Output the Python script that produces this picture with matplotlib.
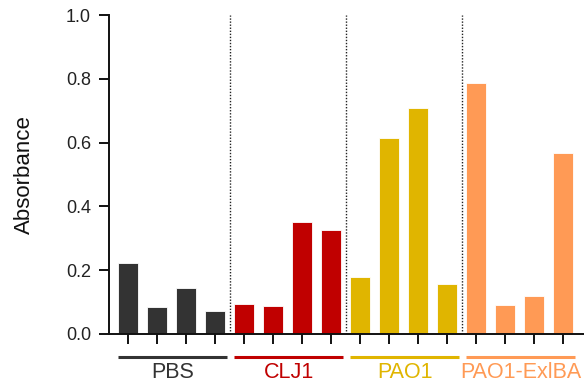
import matplotlib
matplotlib.use("Agg")
import matplotlib.pyplot as plt
import matplotlib.transforms as mtransforms
import numpy as np

plt.rcParams['font.family'] = ['Liberation Sans', 'DejaVu Sans']

groups = ["PBS", "CLJ1", "PAO1", "PAO1-ExlBA"]
pbs = [0.222, 0.084, 0.145, 0.071]
clj1 = [0.095, 0.087, 0.350, 0.327]
pao1 = [0.180, 0.613, 0.707, 0.156]
exlba = [0.786, 0.090, 0.120, 0.567]
colors = ["#333333", "#C00000", "#E0B500", "#FF9A55"]
yticks = [0.0, 0.2, 0.4, 0.6, 0.8, 1.0]

fig = plt.figure(figsize=(5.84, 3.85), dpi=100)
ax = fig.add_axes([0.1866, 0.1325, 0.8134, 0.8285])

series = [pbs, clj1, pao1, exlba]
n = len(pbs)
for gi, (vals, col) in enumerate(zip(series, colors)):
    xs = np.arange(n) + gi * n
    ax.bar(xs, vals, width=0.69, color=col, edgecolor="white", linewidth=0.6, zorder=2)

# dotted separators
for gi in range(1, len(groups)):
    ax.axvline(gi * n - 0.5, ymin=0, ymax=1, color="#222222", linestyle=(0, (1, 1.2)),
               linewidth=1.0, zorder=1)

ax.set_xlim(-0.655, 15.72)
ax.set_ylim(0, 1.0)
ax.set_yticks(yticks)
ax.set_yticklabels([f"{v:.1f}" for v in yticks])
ax.set_xticks(np.arange(n * len(groups)))
ax.set_xticklabels([])
ax.tick_params(axis="both", direction="out", length=7, width=1.4, color="#111111",
               labelsize=13, labelcolor="#222222")
ax.tick_params(axis="y", pad=6)
for s in ["top", "right"]:
    ax.spines[s].set_visible(False)
for s in ["left", "bottom"]:
    ax.spines[s].set_linewidth(1.4)
    ax.spines[s].set_color("#111111")
ax.set_ylabel("Absorbance", fontsize=16, color="#111111", labelpad=22)

trans = mtransforms.blended_transform_factory(ax.transData, ax.transAxes)
for gi, (g, col) in enumerate(zip(groups, colors)):
    c = gi * n + (n - 1) / 2
    ax.plot([c - 1.86, c + 1.9], [-0.071, -0.071], transform=trans, color=col,
            linewidth=2.2, clip_on=False, solid_capstyle="butt")
    ax.text(c + 0.05, -0.12, g, transform=trans, color=col, fontsize=15.5,
            ha="center", va="center")

fig.savefig("out.png", dpi=100)
